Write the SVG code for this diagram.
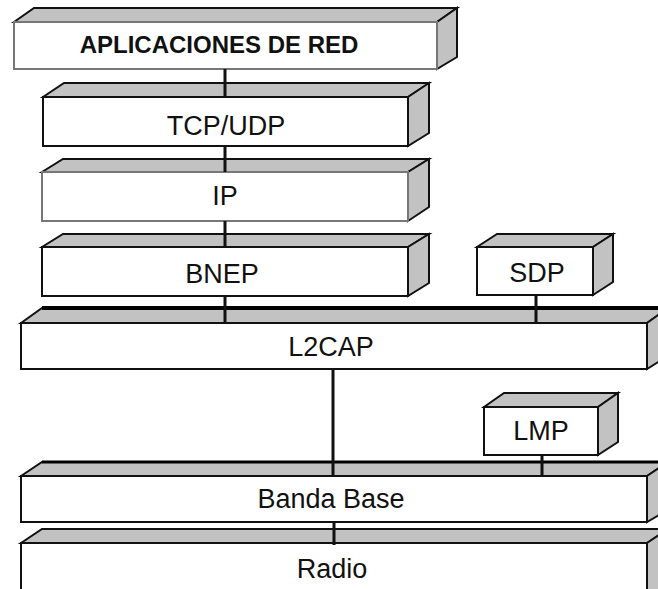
<svg xmlns="http://www.w3.org/2000/svg" width="658" height="589" viewBox="0 0 658 589">
<style>
.face{fill:#ffffff;stroke:#111;stroke-width:2}
.faceg{fill:#ffffff;stroke:#777;stroke-width:2}
.side{fill:#c2c2c2;stroke:#111;stroke-width:2;stroke-linejoin:miter}
.lbl{font-family:"Liberation Sans",Arial,sans-serif;font-size:27px;fill:#111;text-anchor:middle}
.bold{font-weight:bold;font-size:24px}
.conn line{stroke:#111;stroke-width:3}
</style>
<rect width="658" height="589" fill="#ffffff"/>
<g id="aplicaciones">
<polygon class="side" points="14,22 34,8 457,8 437,22"/>
<polygon class="side" points="437,22 457,8 457,57 437,69"/>
<rect class="faceg" x="14" y="22" width="423" height="47"/>
<text class="lbl bold" x="219" y="53">APLICACIONES DE RED</text>
</g>
<g id="tcpudp">
<polygon class="side" points="43,97 64,83 429,83 408,97"/>
<polygon class="side" points="408,97 429,83 429,133 408,146"/>
<rect class="face" x="43" y="97" width="365" height="49"/>
<text class="lbl" x="226" y="135">TCP/UDP</text>
</g>
<g id="ip">
<polygon class="side" points="42,172 63,159 429,159 408,172"/>
<polygon class="side" points="408,172 429,159 429,207 408,221"/>
<rect class="faceg" x="42" y="172" width="366" height="49"/>
<text class="lbl" x="225" y="205">IP</text>
</g>
<g id="bnep">
<polygon class="side" points="42,247 63,234 429,234 408,247"/>
<polygon class="side" points="408,247 429,234 429,283 408,296"/>
<rect class="face" x="42" y="247" width="366" height="49"/>
<text class="lbl" x="222" y="283">BNEP</text>
</g>
<g id="sdp">
<polygon class="side" points="477,247 497,234 613,234 593,247"/>
<polygon class="side" points="593,247 613,234 613,282 593,295"/>
<rect class="face" x="477" y="247" width="116" height="48"/>
<text class="lbl" x="537" y="282">SDP</text>
</g>
<g id="l2cap">
<polygon class="side" points="21,323 42,308 668,308 647,323"/>
<polygon class="side" points="647,323 668,308 668,356 647,369"/>
<rect class="face" x="21" y="323" width="626" height="46"/>
<line x1="42" y1="308" x2="658" y2="308" stroke="#000" stroke-width="4"/>
<text class="lbl" x="331" y="356">L2CAP</text>
</g>
<g id="lmp">
<polygon class="side" points="484,407 504,393 618,393 598,407"/>
<polygon class="side" points="598,407 618,393 618,442 598,455"/>
<rect class="face" x="484" y="407" width="114" height="48"/>
<text class="lbl" x="541" y="440">LMP</text>
</g>
<g id="bandabase">
<polygon class="side" points="21,476 42,462 668,462 647,476"/>
<polygon class="side" points="647,476 668,462 668,510 647,522"/>
<rect class="face" x="21" y="476" width="626" height="46"/>
<line x1="42" y1="462" x2="658" y2="462" stroke="#000" stroke-width="3"/>
<text class="lbl" x="331" y="508">Banda Base</text>
</g>
<g id="radio">
<polygon class="side" points="21,543 42,529 668,529 647,543"/>
<polygon class="side" points="647,543 668,529 668,590 647,595"/>
<rect class="face" x="21" y="543" width="626" height="52"/>
<text class="lbl" x="332" y="578">Radio</text>
</g>
<g id="connectors" class="conn">
<line x1="225" y1="69" x2="225" y2="97"/>
<line x1="225" y1="146" x2="225" y2="172"/>
<line x1="225" y1="221" x2="225" y2="247"/>
<line x1="225" y1="296" x2="225" y2="323"/>
<line x1="536" y1="295" x2="536" y2="323"/>
<line x1="333" y1="369" x2="333" y2="476"/>
<line x1="542" y1="455" x2="542" y2="476"/>
<line x1="334" y1="522" x2="334" y2="545"/>
</g>
</svg>
